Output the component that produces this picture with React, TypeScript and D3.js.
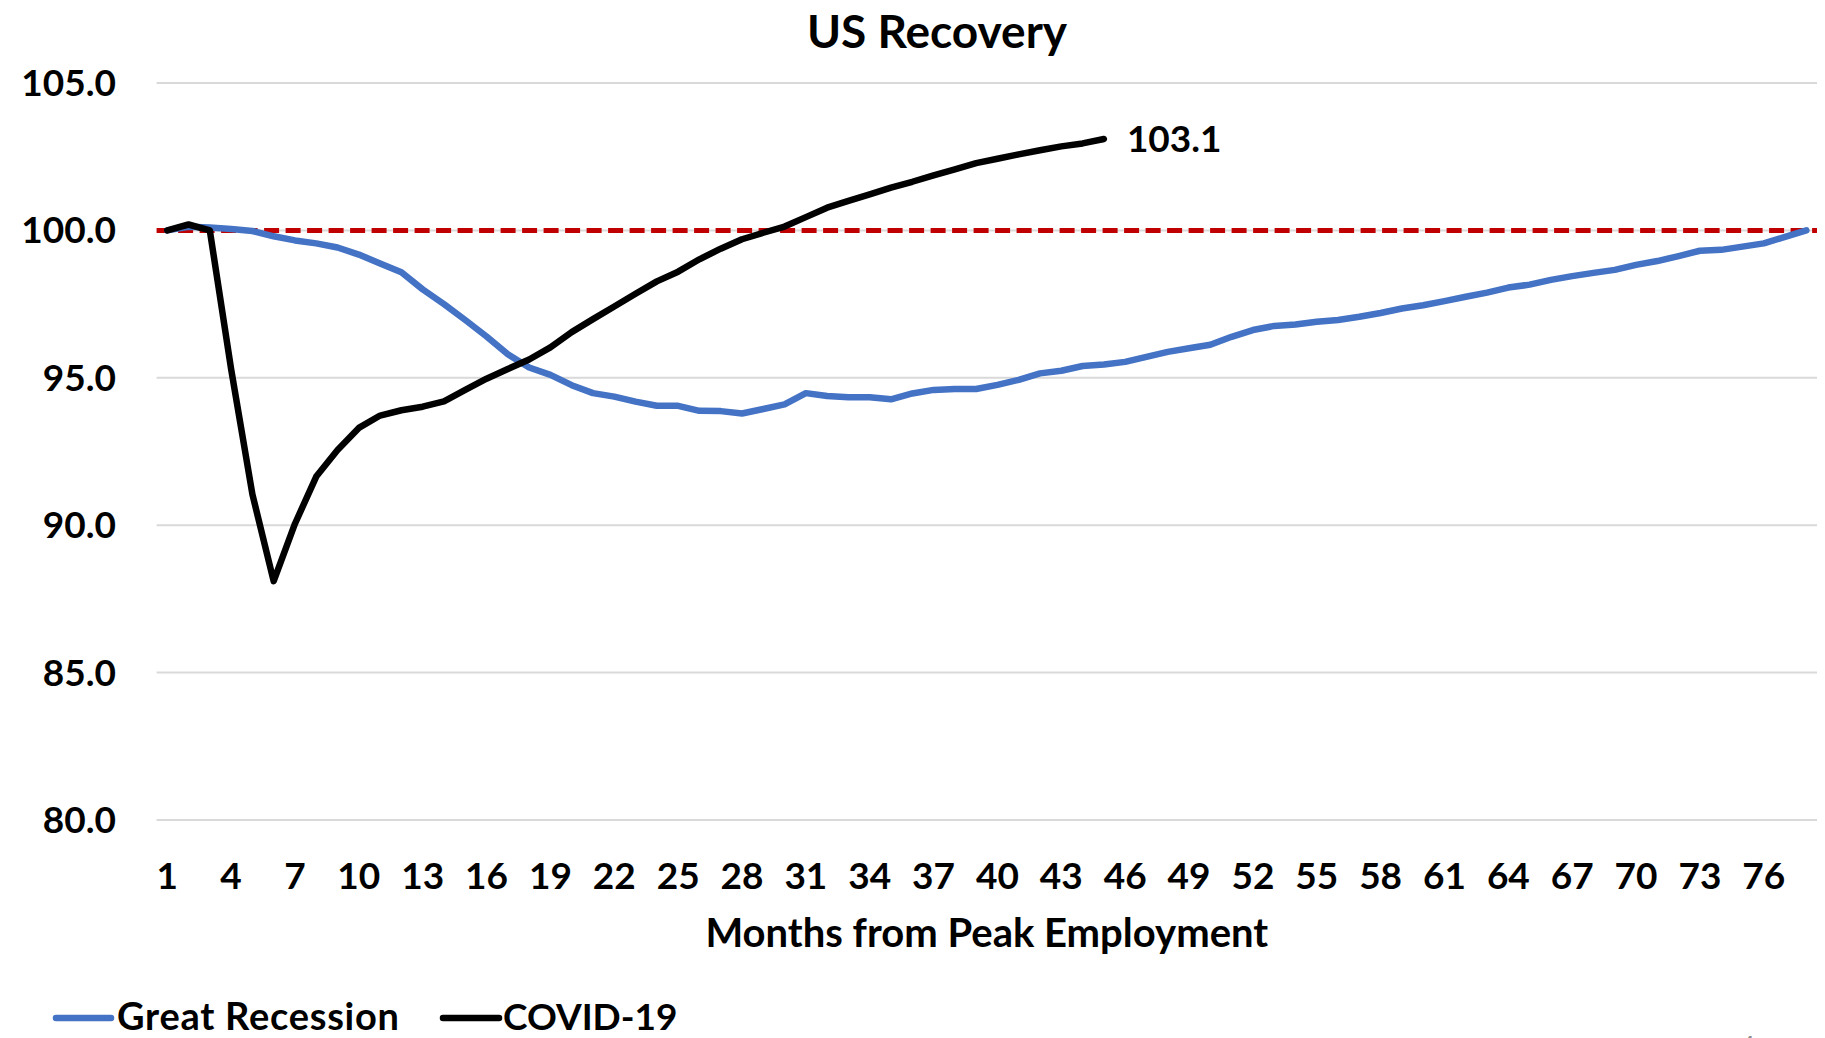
import React from "react";
import * as d3 from "d3";

// index (Feb-2008 / Feb-2020 peak = 100)
const greatRecession = [
  100.0, 100.12, 100.1, 100.05, 99.98, 99.8, 99.66, 99.56, 99.42, 99.18,
  98.88, 98.58, 98.0, 97.5, 96.96, 96.4, 95.8, 95.35, 95.1, 94.75,
  94.48, 94.36, 94.19, 94.05, 94.05, 93.88, 93.87, 93.79, 93.94, 94.1,
  94.48, 94.38, 94.34, 94.34, 94.27, 94.47, 94.59, 94.62, 94.62, 94.76,
  94.93, 95.15, 95.24, 95.4, 95.45, 95.54, 95.71, 95.88, 96.0, 96.12,
  96.39, 96.62, 96.76, 96.81, 96.9, 96.96, 97.07, 97.2, 97.35, 97.46,
  97.6, 97.75, 97.89, 98.06, 98.16, 98.32, 98.45, 98.56, 98.66, 98.83,
  98.96, 99.13, 99.31, 99.34, 99.45, 99.56, 99.78, 100.0,
];

const covid19 = [
  100.0, 100.2, 100.0, 95.3, 91.05, 88.1, 90.05, 91.65, 92.55, 93.3,
  93.72, 93.9, 94.02, 94.2, 94.59, 94.97, 95.3, 95.62, 96.03, 96.55,
  96.99, 97.42, 97.85, 98.27, 98.6, 99.02, 99.38, 99.7, 99.92, 100.13,
  100.45, 100.77, 101.0, 101.22, 101.45, 101.65, 101.87, 102.07, 102.28, 102.43,
  102.58, 102.72, 102.85, 102.95, 103.1,
];

const months = d3.range(1, greatRecession.length + 1);
const monthTicks = months.filter((m) => (m - 1) % 3 === 0);
const yTicks = [80, 85, 90, 95, 100, 105];
const baseline = 100;

const W = 1825;
const H = 1038;
const font = "Lato, 'Open Sans', sans-serif";

export default function App() {
  const x = d3.scalePoint<number>().domain(months).range([156.6, 1817]).padding(0.5);
  const y = d3.scaleLinear().domain([80, 105]).range([820, 83]);
  const fmt = d3.format(".1f");

  const line = d3
    .line<number>()
    .x((d, i) => x(months[i]) as number)
    .y((d) => y(d));

  const lastCovid = covid19.length - 1;
  const [x0, x1] = x.range();

  return (
    <svg
      width={W}
      height={H}
      style={{ position: "absolute", left: 0, top: 0, background: "#fff" }}
      fontFamily={font}
      fontWeight="bold"
    >
      <text x={937} y={48} textAnchor="middle" fontSize={46}>
        US Recovery
      </text>

      {yTicks.map((t) => (
        <g key={t}>
          <line x1={x0} x2={x1} y1={y(t)} y2={y(t)} stroke="#d9d9d9" strokeWidth={2} />
          <text x={116} y={y(t)} dy={13} textAnchor="end" fontSize={37}>
            {fmt(t)}
          </text>
        </g>
      ))}

      {monthTicks.map((m) => (
        <text key={m} x={x(m)} y={889} textAnchor="middle" fontSize={37}>
          {m}
        </text>
      ))}

      <text x={(x0 + x1) / 2} y={947} textAnchor="middle" fontSize={40}>
        Months from Peak Employment
      </text>

      <line
        x1={x0}
        x2={x1}
        y1={y(baseline)}
        y2={y(baseline)}
        stroke="#c00000"
        strokeWidth={5}
        strokeDasharray="15 6.5"
      />

      <path
        d={line(greatRecession) ?? ""}
        fill="none"
        stroke="#4472c4"
        strokeWidth={6.5}
        strokeLinejoin="round"
        strokeLinecap="round"
      />
      <path
        d={line(covid19) ?? ""}
        fill="none"
        stroke="#000"
        strokeWidth={6.5}
        strokeLinejoin="round"
        strokeLinecap="round"
      />

      <text
        x={(x(months[lastCovid]) as number) + 23}
        y={y(covid19[lastCovid])}
        dy={13}
        fontSize={37}
      >
        {fmt(covid19[lastCovid])}
      </text>

      {/* legend */}
      <line x1={56} x2={111} y1={1018} y2={1018} stroke="#4472c4" strokeWidth={6.5} strokeLinecap="round" />
      <text x={117} y={1030} fontSize={38} textLength={282} lengthAdjust="spacing">
        Great Recession
      </text>
      <line x1={443} x2={499} y1={1018} y2={1018} stroke="#000" strokeWidth={6.5} strokeLinecap="round" />
      <text x={503} y={1030} fontSize={37}>
        COVID-19
      </text>

      <text x={1740} y={1056} fontSize={26} fontWeight="normal" fill="#8c8c8c">
        4
      </text>
    </svg>
  );
}
